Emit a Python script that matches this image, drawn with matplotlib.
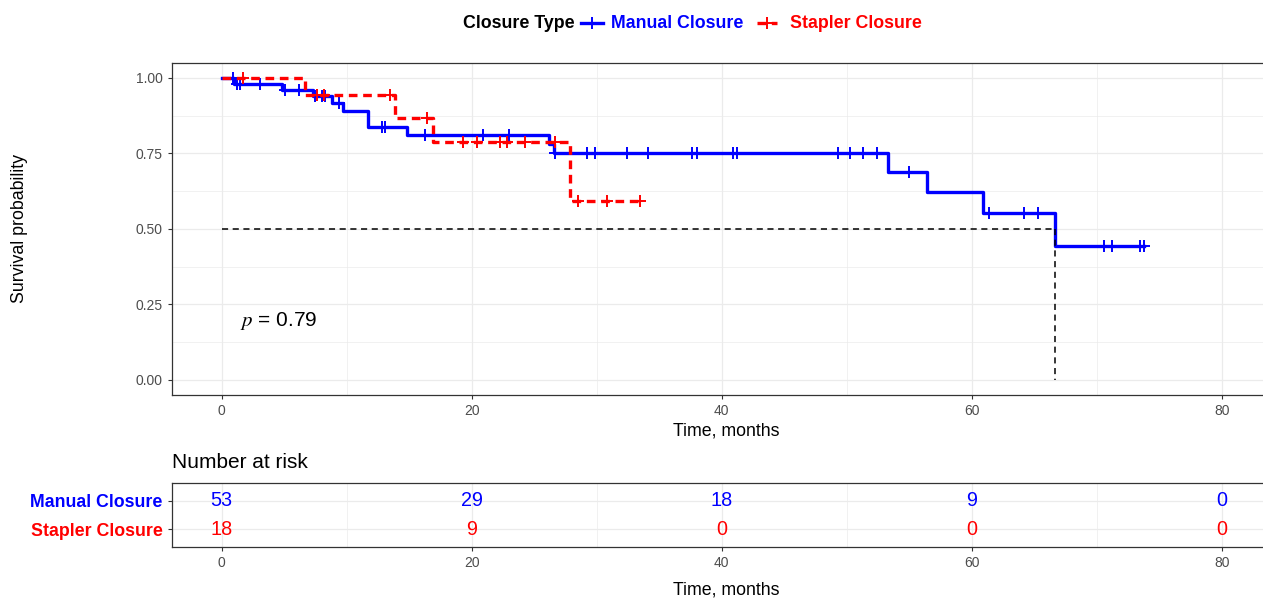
import numpy as np
import matplotlib
matplotlib.use("Agg")
import matplotlib.pyplot as plt
from matplotlib.lines import Line2D

plt.rcParams["font.family"] = ["Liberation Sans", "DejaVu Sans"]

# Kaplan-Meier steps (time in months, survival)
manual_time = [0, 1.0, 4.8, 7.3, 8.8, 9.7, 11.7, 14.8, 26.2, 26.6, 53.3, 56.4, 60.9, 66.7, 73.8]
manual_surv = [1.0, 0.981, 0.960, 0.939, 0.916, 0.889, 0.837, 0.810, 0.780, 0.750, 0.688, 0.621, 0.552, 0.442, 0.442]
manual_cens = [0.9, 1.2, 1.5, 3.1, 5.1, 6.2, 7.5, 8.0, 8.3, 9.4, 12.8, 13.1, 16.3, 20.9, 23.0,
               26.7, 29.2, 29.9, 32.4, 34.1, 37.6, 38.0, 40.9, 41.2, 49.3, 50.3, 51.3, 52.4,
               55.0, 61.4, 64.2, 65.3, 70.6, 71.2, 73.5, 73.8]

stapler_time = [0, 6.7, 13.9, 16.9, 27.9, 33.5]
stapler_surv = [1.0, 0.944, 0.868, 0.789, 0.591, 0.591]
stapler_cens = [1.7, 7.6, 8.2, 13.5, 16.4, 19.3, 20.4, 22.3, 22.8, 24.3, 26.7, 28.5, 30.8, 33.5]

median_time = 66.7
p_text = "0.79"

groups = ["Manual Closure", "Stapler Closure"]
colors = ["#0000FF", "#FF0000"]

risk_times = [0, 20, 40, 60, 80]
manual_risk = [53, 29, 18, 9, 0]
stapler_risk = [18, 9, 0, 0, 0]

W, H = 1263, 599
fig = plt.figure(figsize=(W / 100, H / 100), dpi=100)

GRID = "#EBEBEB"
SPINE = "#333333"
TICK = "#4D4D4D"
LW = 2.4


def style_axes(ax):
    for s in ax.spines.values():
        s.set_color(SPINE)
        s.set_linewidth(0.9)
    ax.tick_params(length=3, width=0.8, color=SPINE, labelcolor=TICK, labelsize=10)
    ax.grid(which="major", color=GRID, lw=0.9)
    ax.grid(which="minor", color=GRID, lw=0.5)
    ax.tick_params(which="minor", length=0)
    ax.set_axisbelow(True)


# main survival panel
ax = fig.add_axes([171.7 / W, (H - 395) / H, 1100 / W, (395 - 62.7) / H])
style_axes(ax)
ax.set_xlim(-4, 84)
ax.set_ylim(-0.05, 1.05)
ax.set_xticks(risk_times)
ax.set_xticks([10, 30, 50, 70], minor=True)
ax.set_yticks([0, 0.25, 0.5, 0.75, 1.0])
ax.set_yticklabels(["0.00", "0.25", "0.50", "0.75", "1.00"])
ax.set_yticks([0.125, 0.375, 0.625, 0.875], minor=True)


def cens_y(times, surv, cens):
    t = np.asarray(times)
    s = np.asarray(surv)
    idx = np.searchsorted(t, cens, side="right") - 1
    return s[idx]


ax.step(manual_time, manual_surv, where="post", color=colors[0], lw=LW, zorder=3)
ax.plot(manual_cens, cens_y(manual_time, manual_surv, manual_cens), ls="none",
        marker="+", ms=9, mew=1.4, color=colors[0], zorder=3)
ax.step(stapler_time, stapler_surv, where="post", color=colors[1], lw=LW,
        dashes=(2.6, 1.7), zorder=4)
ax.plot(stapler_cens, cens_y(stapler_time, stapler_surv, stapler_cens), ls="none",
        marker="+", ms=9, mew=1.4, color=colors[1], zorder=4)

# median line
ax.plot([0, median_time], [0.5, 0.5], color="black", lw=1.1, dashes=(4, 3), zorder=5)
ax.plot([median_time, median_time], [0.5, 0], color="black", lw=1.1, dashes=(4, 3), zorder=5)

ax.text(1.5, 0.195, r"$p$ = " + p_text, fontsize=15, va="center", ha="left",
        math_fontfamily="stix")

fig.text(726 / W, 1 - 431 / H, "Time, months", fontsize=12.8, ha="center", va="center")
fig.text(20 / W, 1 - 228.5 / H, "Survival probability", fontsize=12.8,
         rotation=90, ha="center", va="center")

# legend at the top
ly = 1 - 23 / H
fig.text(463 / W, ly, "Closure Type", fontsize=12.8, fontweight="bold",
         ha="left", va="center")
fig.add_artist(Line2D([581 / W, 603 / W], [ly, ly], color=colors[0], lw=LW))
fig.add_artist(Line2D([592 / W], [ly], marker="+", ms=9, mew=1.4, color=colors[0]))
fig.text(611 / W, ly, groups[0], fontsize=12.8, fontweight="bold", color=colors[0],
         ha="left", va="center")
fig.add_artist(Line2D([757 / W, 777 / W], [ly, ly], color=colors[1], lw=LW,
                      dashes=(2.6, 1.7)))
fig.add_artist(Line2D([767 / W], [ly], marker="+", ms=9, mew=1.4, color=colors[1]))
fig.text(790 / W, ly, groups[1], fontsize=12.8, fontweight="bold", color=colors[1],
         ha="left", va="center")

# risk table
axr = fig.add_axes([171.7 / W, (H - 546.7) / H, 1100 / W, 63.4 / H])
style_axes(axr)
axr.set_xlim(-4, 84)
axr.set_ylim(0.4, 2.6)
axr.set_xticks(risk_times)
axr.set_xticks([10, 30, 50, 70], minor=True)
axr.set_yticks([2, 1])
axr.set_yticklabels(groups)
for lab, c in zip(axr.get_yticklabels(), colors):
    lab.set_color(c)
    lab.set_fontweight("bold")
    lab.set_fontsize(12.8)

for t, m, s in zip(risk_times, manual_risk, stapler_risk):
    axr.text(t, 2, str(m), color=colors[0], fontsize=14.3, ha="center", va="center")
    axr.text(t, 1, str(s), color=colors[1], fontsize=14.3, ha="center", va="center")

fig.text(172 / W, 1 - 463 / H, "Number at risk", fontsize=15, ha="left", va="center")
fig.text(726 / W, 1 - 590 / H, "Time, months", fontsize=12.8, ha="center", va="center")

fig.savefig("out.png", dpi=100)
